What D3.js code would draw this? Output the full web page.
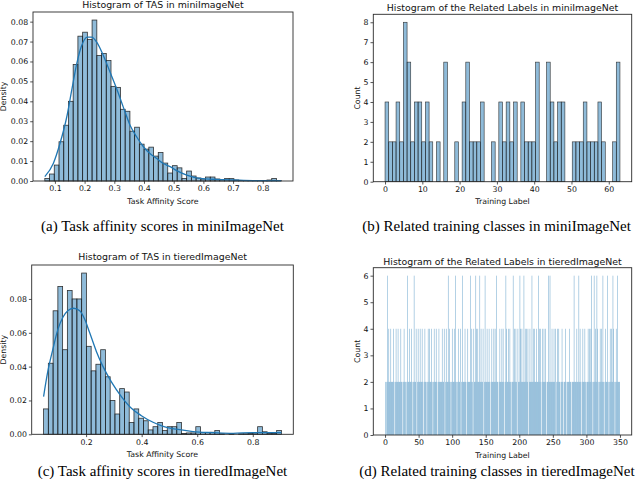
<!DOCTYPE html>
<html><head><meta charset="utf-8">
<script src="https://cdn.jsdelivr.net/npm/d3@7"></script>
<style>
body{margin:0;background:#fff}
svg{display:block}
</style>
</head><body>
<svg id="fig" width="640" height="479"></svg>
<script>
// ---------- (a) TAS in miniImageNet ----------
const tasMiniRange = [0.066, 0.862];
const tasMiniDensity = [0.0013,0.0035,0.008,0.0197,0.028,0.040,0.0585,0.0727,0.0747,0.071,0.0808,
  0.063,0.064,0.0605,0.0475,0.047,0.036,0.035,0.025,0.027,0.0185,0.016,0.017,0.0125,0.0143,0.009,0.004,0.0077,0.0066,
  0.0013,0.005,0.0025,0.0015,0.001,0.002,0.002,0.001,0.0008,0.0012,0.0012,0.0005,0.0003,0.0003,0.0002,0.0003,0.0002,0.0002,0.0005,0.0013,0.0003];
const tasMiniKde = [[0.066,0.0022],[0.0946,0.0088],[0.117,0.0188],[0.1397,0.032],[0.1565,0.0455],[0.1734,0.0588],
  [0.1902,0.068],[0.209,0.0722],[0.2236,0.0722],[0.2407,0.0697],[0.263,0.063],[0.2856,0.0547],[0.308,0.0463],
  [0.330,0.0372],[0.353,0.028],[0.375,0.0222],[0.398,0.0172],[0.420,0.0138],[0.443,0.0113],[0.465,0.0088],
  [0.488,0.0072],[0.510,0.0052],[0.544,0.003],[0.589,0.0013],[0.645,0.0008],[0.701,0.0005],[0.768,0.0002],[0.862,0.0002]];
const tasMiniXTicks = [0.1,0.2,0.3,0.4,0.5,0.6,0.7,0.8];
const tasMiniYTicks = [0,0.01,0.02,0.03,0.04,0.05,0.06,0.07,0.08];

// ---------- (b) related labels in miniImageNet ----------
const miniLabelRange = [0, 63];
const miniLabelCounts = [4,2,2,4,2,8,6,2,4,4, 2,4,2,0,2,0,6,0,0,2, 0,4,6,2,2,2,4,0,0,2,
  0,4,2,4,2,4,0,4,2,2, 2,6,0,0,6,4,2,4,4,0, 0,2,2,2,4,2,2,2,4,2, 0,0,2,6];
const miniLabelXTicks = [0,10,20,30,40,50,60];
const miniLabelYTicks = [0,1,2,3,4,5,6,7,8];

// ---------- (c) TAS in tieredImageNet ----------
const tasTieredRange = [0.047, 0.903];
const tasTieredDensity = [0.015,0.042,0.073,0.0874,0.050,0.085,0.080,0.080,0.0953,0.052,
  0.0375,0.0414,0.050,0.034,0.020,0.012,0.027,0.025,0.007,0.015,
  0.0095,0.008,0.0026,0.0045,0.007,0.0022,0.0045,0.0045,0.007,0.0005,
  0.0008,0.0008,0.0045,0.001,0.001,0.0012,0.0022,0.0003,0,0.0003,
  0,0.0003,0.0003,0.0005,0.0008,0.0045,0.0015,0.0005,0.0005,0.0022];
const tasTieredKde = [[0.047,0.0223],[0.062,0.037],[0.080,0.050],[0.098,0.0617],[0.116,0.069],[0.134,0.073],
  [0.155,0.0745],[0.177,0.073],[0.195,0.068],[0.213,0.060],[0.237,0.049],[0.261,0.040],[0.291,0.031],
  [0.327,0.0223],[0.363,0.0154],[0.399,0.011],[0.441,0.0071],[0.477,0.0047],[0.525,0.003],[0.585,0.0016],
  [0.657,0.001],[0.729,0.0006],[0.801,0.001],[0.849,0.001],[0.903,0.001]];
const tasTieredXTicks = [0.2,0.4,0.6,0.8];
const tasTieredYTicks = [0,0.02,0.04,0.06,0.08];

// ---------- (d) related labels in tieredImageNet ----------
const tieredLabelRange = [0, 350];
const tieredLabelCounts = [
  2,0,2,6,2,4,2,2,4,2, 2,2,4,2,0,2,4,2,2,4, 2,2,2,4,2,2,0,2,4,2, 2,0,2,6,2,2,4,2,2,4,
  2,0,2,6,2,2,4,0,2,4, 2,2,4,2,2,4,2,0,2,4, 2,2,0,2,4,2,4,2,2,4, 2,0,2,4,2,2,4,2,0,2,
  4,2,2,2,2,4,2,2,4,0, 2,4,2,2,6,2,4,2,0,2, 4,2,2,4,2,6,2,0,2,4, 2,2,4,0,2,6,2,2,2,4,
  2,0,2,4,2,2,2,6,2,4, 2,0,4,2,2,6,4,2,4,2, 2,6,2,4,2,2,4,0,2,6, 2,2,4,2,2,4,2,0,2,4,
  2,2,4,2,4,2,6,2,2,0, 2,4,2,2,4,2,4,2,0,2, 6,4,2,2,4,2,4,2,0,2, 2,6,2,4,2,4,2,0,4,2,
  2,6,4,2,4,2,2,6,2,4, 2,4,2,4,0,2,4,2,2,6, 2,4,2,4,2,2,4,2,2,6, 4,2,4,0,2,4,2,4,2,4,
  2,0,2,2,6,2,6,2,2,4, 2,2,4,2,4,0,2,4,2,4, 2,2,0,2,4,2,0,2,2,4, 2,0,2,2,2,4,2,2,0,2,
  2,2,6,2,2,2,4,2,2,6, 2,4,2,0,2,4,2,2,4,2, 0,2,2,4,2,4,2,4,6,2, 0,2,6,2,4,2,6,4,2,0,
  2,4,2,4,2,6,2,0,2,4, 2,2,6,2,0,2,4,2,4,2, 6,4,2,0,2,4,2,6,2,2, 2];
const tieredLabelXTicks = [0,50,100,150,200,250,300,350];
const tieredLabelYTicks = [0,1,2,3,4,5,6];

// ---------- drawing ----------
const svg = d3.select("#fig");
const BLUE = "rgb(31,119,180)";
const FILL = "rgba(31,119,180,0.5)";
const SANS = "DejaVu Sans";

function binsFrom(range, values) {
  const w = (range[1] - range[0]) / values.length;
  return values.map((v, i) => ({x0: range[0] + i * w, x1: range[0] + (i + 1) * w, h: v}));
}

function panel(o) {
  const g = svg.append("g");
  const lo = o.range[0], hi = o.range[1], m = 0.05 * (hi - lo);
  const x = d3.scaleLinear().domain([lo - m, hi + m]).range([o.box[0], o.box[1]]);
  const ymax = d3.max([d3.max(o.values), o.kde ? d3.max(o.kde, d => d[1]) : 0]);
  const y = d3.scaleLinear().domain([0, ymax * 1.05]).range([o.box[3], o.box[2]]);
  const bins = binsFrom(o.range, o.values);

  g.append("g").selectAll("rect").data(bins.filter(b => b.h > 0)).join("rect")
    .attr("x", b => x(b.x0)).attr("width", b => Math.max(0, x(b.x1) - x(b.x0)))
    .attr("y", b => y(b.h)).attr("height", b => y(0) - y(b.h))
    .attr("fill", FILL)
    .attr("stroke", o.edge > 0 ? "#1f1f1f" : "none")
    .attr("stroke-opacity", o.edgeOpacity)
    .attr("stroke-width", o.edge);

  if (o.kde) {
    g.append("path").datum(o.kde)
      .attr("d", d3.line().x(d => x(d[0])).y(d => y(d[1])).curve(d3.curveMonotoneX))
      .attr("fill", "none").attr("stroke", BLUE).attr("stroke-width", 1.3);
  }

  // frame
  g.append("rect").attr("x", o.box[0]).attr("y", o.box[2])
    .attr("width", o.box[1] - o.box[0]).attr("height", o.box[3] - o.box[2])
    .attr("fill", "none").attr("stroke", "#2a2a2a").attr("stroke-width", 0.9);

  const ax = g.append("g").attr("transform", `translate(0,${o.box[3]})`)
    .call(d3.axisBottom(x).tickValues(o.xTicks).tickFormat(o.xFmt).tickSize(2.8).tickPadding(2));
  const ay = g.append("g").attr("transform", `translate(${o.box[0]},0)`)
    .call(d3.axisLeft(y).tickValues(o.yTicks).tickFormat(o.yFmt).tickSize(2.8).tickPadding(2));
  [ax, ay].forEach(a => {
    a.select(".domain").remove();
    a.selectAll(".tick line").attr("stroke", "#2a2a2a").attr("stroke-width", 0.8);
    a.selectAll(".tick text").attr("font-family", SANS).attr("font-size", 7.8).attr("fill", "#111");
  });

  const cx = (o.box[0] + o.box[1]) / 2;
  g.append("text").attr("x", cx).attr("y", o.titleY).attr("text-anchor", "middle")
    .attr("font-family", SANS).attr("font-size", 9.4).attr("fill", "#111").text(o.title);
  g.append("text").attr("x", cx).attr("y", o.box[3] + 22.5).attr("text-anchor", "middle")
    .attr("font-family", SANS).attr("font-size", 7.8).attr("fill", "#111").text(o.xlabel);
  g.append("text").attr("transform", `translate(${o.ylabelX},${(o.box[2] + o.box[3]) / 2}) rotate(-90)`)
    .attr("text-anchor", "middle").attr("font-family", SANS).attr("font-size", 7.8).attr("fill", "#111").text(o.ylabel);
  g.append("text").attr("x", o.capX).attr("y", o.capY).attr("text-anchor", "middle")
    .attr("font-family", "Liberation Serif").attr("font-size", 15).attr("fill", "#000").text(o.caption);
}

const f2 = d3.format(".2f"), f1 = d3.format(".1f"), f0 = d3.format("d");

panel({box: [33, 293, 12, 181], range: tasMiniRange, values: tasMiniDensity, kde: tasMiniKde,
  xTicks: tasMiniXTicks, yTicks: tasMiniYTicks, xFmt: f1, yFmt: f2, edge: 0.8, edgeOpacity: 0.9,
  title: "Histogram of TAS in miniImageNet", titleY: 7.5, xlabel: "Task Affinity Score", ylabel: "Density", ylabelX: 6,
  caption: "(a) Task affinity scores in miniImageNet", capX: 162.5, capY: 230.5});

panel({box: [373.3, 631.7, 14.3, 181.7], range: miniLabelRange, values: miniLabelCounts, kde: null,
  xTicks: miniLabelXTicks, yTicks: miniLabelYTicks, xFmt: f0, yFmt: f0, edge: 0.6, edgeOpacity: 0.9,
  title: "Histogram of the Related Labels in miniImageNet", titleY: 11, xlabel: "Training Label", ylabel: "Count", ylabelX: 360,
  caption: "(b) Related training classes in miniImageNet", capX: 496.5, capY: 230.5});

panel({box: [31.7, 293.3, 265, 434.3], range: tasTieredRange, values: tasTieredDensity, kde: tasTieredKde,
  xTicks: tasTieredXTicks, yTicks: tasTieredYTicks, xFmt: f1, yFmt: f2, edge: 0.8, edgeOpacity: 0.9,
  title: "Histogram of TAS in tieredImageNet", titleY: 260, xlabel: "Task Affinity Score", ylabel: "Density", ylabelX: 6,
  caption: "(c) Task affinity scores in tieredImageNet", capX: 162.5, capY: 475.5});

panel({box: [373.3, 631.7, 267.7, 435], range: tieredLabelRange, values: tieredLabelCounts, kde: null,
  xTicks: tieredLabelXTicks, yTicks: tieredLabelYTicks, xFmt: f0, yFmt: f0, edge: 0, edgeOpacity: 0,
  title: "Histogram of the Related Labels in tieredImageNet", titleY: 265, xlabel: "Training Label", ylabel: "Count", ylabelX: 360,
  caption: "(d) Related training classes in tieredImageNet", capX: 497, capY: 475.5});
</script>
</body></html>
